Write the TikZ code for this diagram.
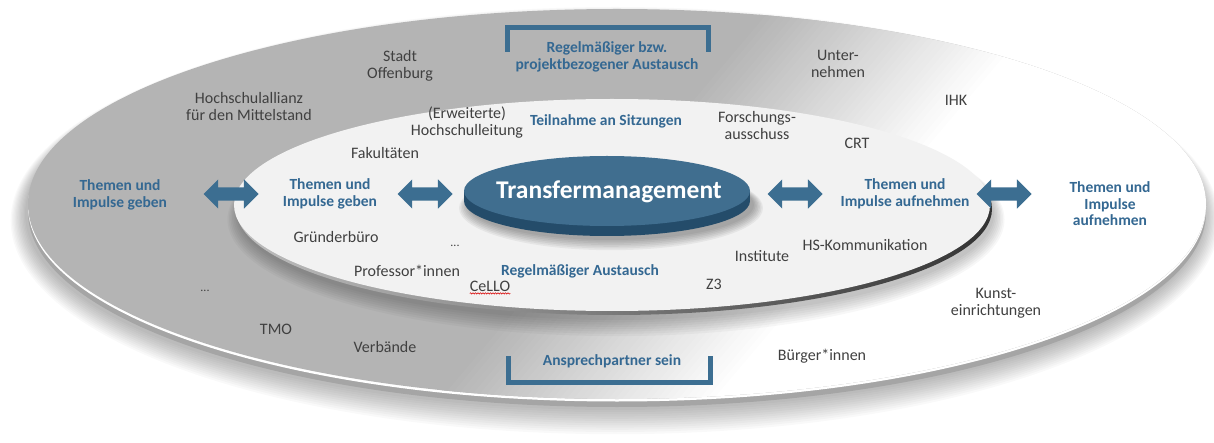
\documentclass[tikz,border=0pt]{standalone}
\usepackage{fontspec}
\setmainfont{Carlito}
\usetikzlibrary{shapes.arrows,decorations.pathmorphing}
\definecolor{og}{RGB}{180,180,180}
\definecolor{rimgray}{RGB}{165,165,165}
\definecolor{innerface}{RGB}{242,242,242}
\definecolor{txtgray}{RGB}{64,64,64}
\definecolor{txtblue}{RGB}{52,104,146}
\definecolor{arrblue}{RGB}{60,110,145}
\definecolor{discface}{RGB}{64,110,143}
\definecolor{discside}{RGB}{36,76,106}
\tikzset{
  gtxt/.style={text=txtgray, font=\fontsize{16}{17}\selectfont, align=center, inner sep=0pt},
  btxt/.style={text=txtblue, font=\bfseries\fontsize{15.5}{16.5}\selectfont, align=center, inner sep=0pt},
  dotstxt/.style={text=txtgray, font=\fontsize{12}{12}\selectfont, inner sep=0pt},
  dblarrow/.style={double arrow, fill=arrblue, draw=none, minimum height=55pt,
    double arrow head extend=8pt, inner xsep=0pt, inner ysep=6.5pt,
    text height=0pt, text depth=0pt},
  bracketline/.style={draw=arrblue, line width=5pt, line join=miter, line cap=rect}
}
\begin{document}
\begin{tikzpicture}[x=1pt,y=-1pt]
\useasboundingbox (0,0) rectangle (1214,443);
\fill[white] (0,0) rectangle (1214,443);
% ---- outer disc shadow
\foreach \i in {0,...,11}{
  \fill[black,opacity=0.025] (615,{214+\i*0.6}) ellipse [x radius={(590+\i*1.3)*1pt}, y radius={(196+\i*1.6)*1pt}];
}
% rim
\fill[rimgray] (617,212) ellipse [x radius=589pt, y radius=195pt];
\fill[white] (617,206.5) ellipse [x radius=589pt, y radius=195pt];
% face with angled gradient
\begin{scope}
  \clip (617,204) ellipse [x radius=589pt, y radius=195pt];
  \fill[og] (0,-20) rectangle (1300,460);
  \foreach \i in {0,...,39}{
    \pgfmathsetmacro\p{\i*2.5}
    \fill[white!\p!og] ({780+\i*7},-10) -- ({780+\i*7+8},-10) -- ({780+\i*7+8-390},450) -- ({780+\i*7-390},450) -- cycle;
  }
  \fill[white] ({780+40*7},-10) -- (1300,-10) -- (1300,450) -- ({780+40*7-390},450) -- cycle;
\end{scope}
% ---- inner disc
\foreach \i in {0,...,7}{
  \fill[black,opacity=0.03] (616,{214+\i*0.8}) ellipse [x radius={(378+\i*1.5)*1pt}, y radius={(106+\i*1.5)*1pt}];
}
\shade[left color=black!25, right color=black!80] (614,209) ellipse [x radius=378pt, y radius=106pt];
\fill[innerface] (612,205) ellipse [x radius=378pt, y radius=106pt];
% ---- central disc
\foreach \i in {0,...,6}{
  \fill[black,opacity=0.05] (611,{205+\i*0.5}) ellipse [x radius={(143+\i*1.5)*1pt}, y radius={(35+\i*1.2)*1pt}];
}
\fill[discside] (607,201) ellipse [x radius=143pt, y radius=35pt];
\fill[discside] (464,191) rectangle (750,201);
\fill[discface] (607,191) ellipse [x radius=143pt, y radius=35pt];
\node[text=white, font=\bfseries\fontsize{25.5}{28}\selectfont, inner sep=0pt] (tm) at (609,192) {Transfermanagement};
% ---- arrows
\node[dblarrow] (a1) at (231,194) {};
\node[dblarrow] (a2) at (425,194) {};
\node[dblarrow] (a3) at (795,194) {};
\node[dblarrow] (a4) at (1004,194) {};
% ---- brackets
\draw[bracketline] (507,50) -- (507,28) -- (708,28) -- (708,50);
\draw[bracketline] (508,358) -- (508,382) -- (710,382) -- (710,358);
% ---- blue labels
\node[btxt] (top) at (607,57) {Regelmäßiger bzw.\\projektbezogener Austausch};
\node[btxt] (teil) at (606,121) {Teilnahme an Sitzungen};
\node[btxt] (regel) at (580,271) {Regelmäßiger Austausch};
\node[btxt] (ansp) at (612,361) {Ansprechpartner sein};
\node[btxt] (tgo) at (120,195) {Themen und\\Impulse geben};
\node[btxt] (tgi) at (330,194) {Themen und\\Impulse geben};
\node[btxt] (tai) at (905,194) {Themen und\\Impulse aufnehmen};
\node[btxt] (tao) at (1110,204) {Themen und\\Impulse\\aufnehmen};
% ---- gray labels outer ring
\node[gtxt] (stadt) at (400,66) {Stadt\\Offenburg};
\node[gtxt] (hsa) at (249,107) {Hochschulallianz\\für den Mittelstand};
\node[gtxt] (unter) at (838,64) {Unter-\\nehmen};
\node[gtxt] (ihk) at (956,100) {IHK};
\node[dotstxt] (dotso) at (205,291) {...};
\node[gtxt] (tmo) at (276,329) {TMO};
\node[gtxt] (verb) at (385,347) {Verbände};
\node[gtxt] (buerger) at (822,356) {Bürger*innen};
\node[gtxt] (kunst) at (996,303) {Kunst-\\einrichtungen};
% ---- gray labels inner ring
\node[gtxt] (hsl) at (467,123) {(Erweiterte)\\Hochschulleitung};
\node[gtxt] (fak) at (385,153) {Fakultäten};
\node[gtxt] (forsch) at (757,126) {Forschungs-\\ausschuss};
\node[gtxt] (crt) at (857,143) {CRT};
\node[gtxt] (gruender) at (336,237) {Gründerbüro};
\node[dotstxt] (dotsi) at (455,246) {...};
\node[gtxt] (prof) at (407,271) {Professor*innen};
\node[gtxt] (cello) at (490,286) {CeLLO};
\draw[red!85!black, line width=0.5pt, decorate, decoration={snake, amplitude=0.7pt, segment length=2.5pt}]
  ([yshift=-2pt]cello.south west) -- ([yshift=-2pt]cello.south east);
\node[gtxt] (inst) at (762,256) {Institute};
\node[gtxt] (hsk) at (865,245) {HS-Kommunikation};
\node[gtxt] (z3) at (714,284) {Z3};
\end{tikzpicture}
\end{document}
